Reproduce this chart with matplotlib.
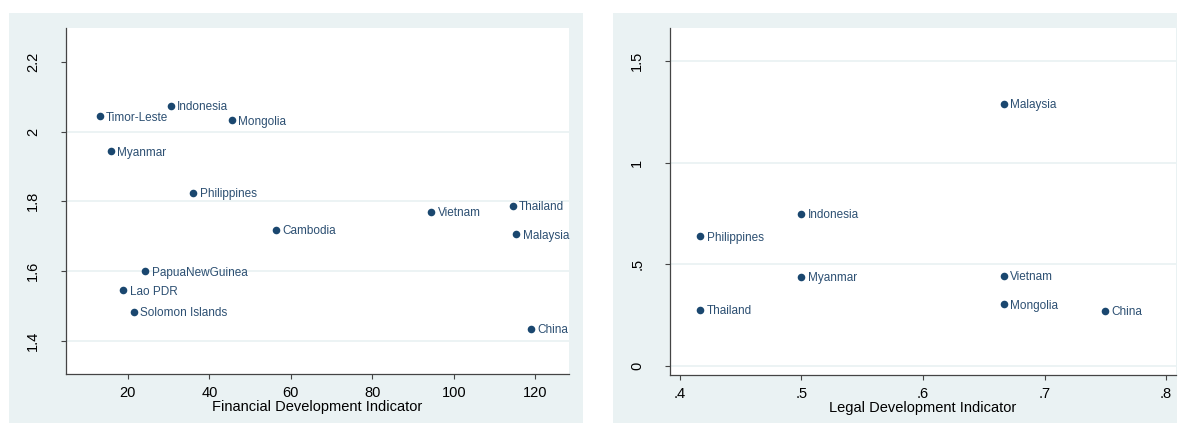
import matplotlib
matplotlib.use("Agg")
import matplotlib.pyplot as plt
from matplotlib.patches import Rectangle

plt.rcParams['font.family'] = ['Liberation Sans', 'DejaVu Sans']

# left panel: financial development
fin_countries = ["Timor-Leste", "Indonesia", "Mongolia", "Myanmar", "Philippines",
                 "Vietnam", "Thailand", "Cambodia", "Malaysia", "PapuaNewGuinea",
                 "Lao PDR", "Solomon Islands", "China"]
fin_x = [13.1, 30.6, 45.6, 15.9, 36.1, 94.5, 114.5, 56.3, 115.4, 24.3, 18.9, 21.5, 118.9]
fin_y = [2.044, 2.074, 2.032, 1.944, 1.825, 1.770, 1.787, 1.718, 1.705, 1.599, 1.545, 1.483, 1.435]
fin_xticks = [20, 40, 60, 80, 100, 120]
fin_yticks = [1.4, 1.6, 1.8, 2.0, 2.2]
fin_yticklabels = ["1.4", "1.6", "1.8", "2", "2.2"]
fin_grid = [1.4, 1.6, 1.8, 2.0]

# right panel: legal development
leg_countries = ["Malaysia", "Indonesia", "Philippines", "Myanmar", "Vietnam",
                 "Thailand", "Mongolia", "China"]
leg_x = [0.6667, 0.5, 0.4167, 0.5, 0.6667, 0.4167, 0.6667, 0.75]
leg_y = [1.289, 0.747, 0.637, 0.440, 0.445, 0.277, 0.303, 0.272]
leg_xticks = [0.4, 0.5, 0.6, 0.7, 0.8]
leg_xticklabels = [".4", ".5", ".6", ".7", ".8"]
leg_yticks = [0, 0.5, 1, 1.5]
leg_yticklabels = ["0", ".5", "1", "1.5"]
leg_grid = [0, 0.5, 1, 1.5]

NAVY = "#1a476f"
LBL = "#2c4f72"
BG = "#eaf2f3"
W, H = 1178, 423

fig = plt.figure(figsize=(W / 100, H / 100), dpi=100)
fig.patch.set_facecolor("white")


def px_axes(x0, y0, x1, y1):
    return fig.add_axes([x0 / W, (H - y1) / H, (x1 - x0) / W, (y1 - y0) / H])


def panel(bg, ax_box, xs, ys, names, xticks, xlabels, yticks, ylabels, grid,
          xlim, ylim, xtitle):
    fig.add_artist(Rectangle((bg[0] / W, (H - bg[3]) / H), (bg[2] - bg[0]) / W,
                             (bg[3] - bg[1]) / H, transform=fig.transFigure,
                             facecolor=BG, edgecolor="none", zorder=-5))
    ax = px_axes(*ax_box)
    ax.set_zorder(2)
    ax.set_facecolor("white")
    for g in grid:
        ax.axhline(g, color=BG, lw=1.3, zorder=1)
    ax.scatter(xs, ys, s=30, color=NAVY, zorder=3, linewidths=0)
    for n, x, y in zip(names, xs, ys):
        ax.annotate(n, (x, y), xytext=(4.5, -1), textcoords="offset points",
                    ha="left", va="center", fontsize=8.5, color=LBL, zorder=4)
    ax.set_xlim(*xlim)
    ax.set_ylim(*ylim)
    ax.set_xticks(xticks)
    ax.set_xticklabels(xlabels)
    ax.set_yticks(yticks)
    ax.set_yticklabels(ylabels, rotation=90, va="center")
    ax.tick_params(axis="both", direction="out", length=3.6, width=0.8,
                   color="#444444", labelsize=10.5, labelcolor="black")
    ax.tick_params(axis="y", pad=15)
    ax.tick_params(axis="x", pad=5)
    for s in ["top", "right"]:
        ax.spines[s].set_visible(False)
    for s in ["left", "bottom"]:
        ax.spines[s].set_color("#444444")
        ax.spines[s].set_linewidth(0.9)
    ax.set_xlabel(xtitle, fontsize=10.5, labelpad=0)
    return ax


panel((9, 13, 583, 423), (66, 28, 569, 374), fin_x, fin_y, fin_countries,
      fin_xticks, [str(t) for t in fin_xticks], fin_yticks, fin_yticklabels,
      fin_grid, (4.8, 128.3), (1.305, 2.297), "Financial Development Indicator")

panel((613, 13, 1177, 423), (670, 28, 1176, 375), leg_x, leg_y, leg_countries,
      leg_xticks, leg_xticklabels, leg_yticks, leg_yticklabels,
      leg_grid, (0.3918, 0.8082), (-0.044, 1.662), "Legal Development Indicator")

fig.savefig("out.png", dpi=100)
